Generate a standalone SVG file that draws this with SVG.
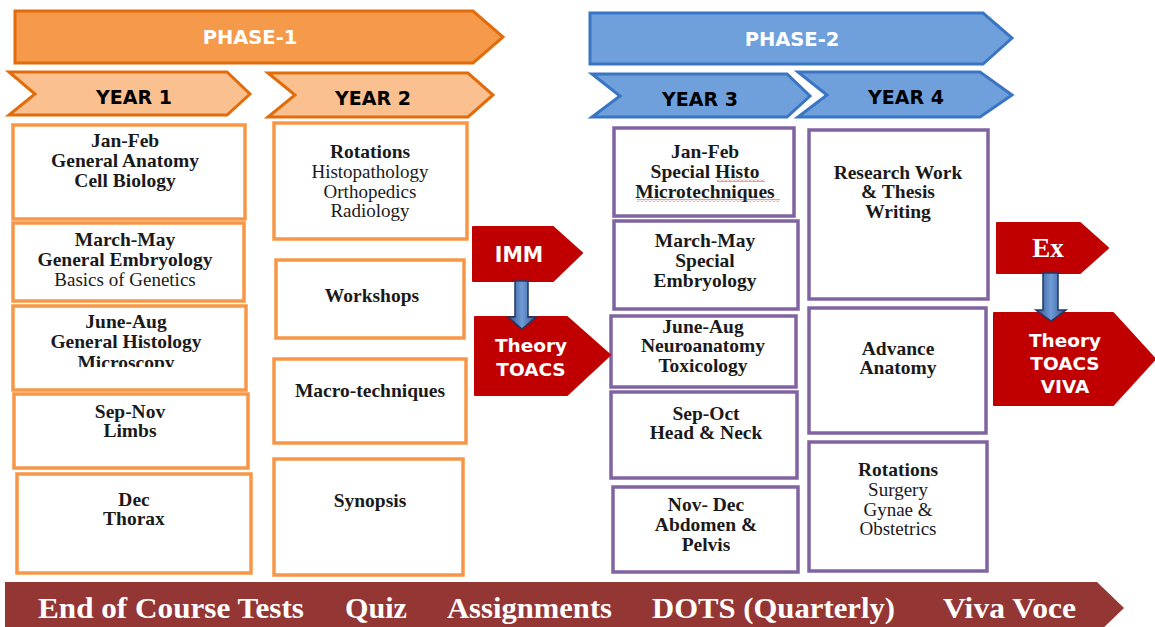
<svg xmlns="http://www.w3.org/2000/svg" width="1155" height="627" viewBox="0 0 1155 627">
<defs>
<style>
.ph1{fill:#F59A4A;stroke:#E36C0A;stroke-width:3}
.yr1{fill:#FAC090;stroke:#E36C0A;stroke-width:3}
.ph2{fill:#6FA0DC;stroke:#3A75C4;stroke-width:3}
.ob{fill:#fff;stroke:#F79646;stroke-width:3.5}
.pb{fill:#fff;stroke:#8064A2;stroke-width:3.5}
.red{fill:#C00000;stroke:#C00000;stroke-width:2;stroke-linejoin:round}
.dn{fill:url(#blu);stroke:#1F3864;stroke-width:1.5}
.hw{font-family:'DejaVu Sans',sans-serif;font-weight:bold;fill:#fff;text-anchor:middle}
.hb{font-family:'DejaVu Sans',sans-serif;font-weight:bold;font-size:19px;fill:#000;text-anchor:middle}
.b{font-family:'Liberation Serif',serif;font-weight:bold;font-size:19.5px;fill:#1a1a1a;text-anchor:middle}
.r{font-family:'Liberation Serif',serif;font-size:19px;fill:#1a1a1a;text-anchor:middle}
.bt{font-family:'Liberation Serif',serif;font-weight:bold;font-size:29px;fill:#fff}
</style>
<linearGradient id="blu" x1="0" y1="0" x2="1" y2="0">
<stop offset="0" stop-color="#2E5590"/>
<stop offset="0.5" stop-color="#6F9BD6"/>
<stop offset="1" stop-color="#2E5590"/>
</linearGradient>
<pattern id="sq" width="4" height="3" patternUnits="userSpaceOnUse">
<path d="M0,2.5 L2,0.5 L4,2.5" fill="none" stroke="#E02020" stroke-width="0.9"/>
</pattern>
<clipPath id="clipMic"><rect x="0" y="300" width="300" height="67"/></clipPath>
</defs>

<g id="phase1">
<polygon class="ph1" points="15,11 473,11 503,37 473,63 15,63"/>
<text class="hw" x="250" y="44" font-size="19.5">PHASE-1</text>
</g>
<g id="phase2">
<polygon class="ph2" points="590,13 983,13 1012,38 983,64 590,64"/>
<text class="hw" x="792" y="46" font-size="19.5">PHASE-2</text>
</g>
<g id="year1">
<polygon class="yr1" points="9,72 227,72 250,94 227,115 9,115 35,94"/>
<text class="hb" x="134" y="104">YEAR 1</text>
</g>
<g id="year2">
<polygon class="yr1" points="268,73 468,73 493,95 468,117 268,117 295,95"/>
<text class="hb" x="373" y="105">YEAR 2</text>
</g>
<g id="year3">
<polygon class="ph2" points="592,74 787,74 810,96 787,117 592,117 620,96"/>
<text class="hb" x="700" y="106">YEAR 3</text>
</g>
<g id="year4">
<polygon class="ph2" points="798,72 980,72 1012,95 980,117 798,117 827,95"/>
<text class="hb" x="906" y="104">YEAR 4</text>
</g>

<g id="y1-janfeb">
<rect class="ob" x="13" y="125" width="232" height="94"/>
<text class="b" x="125" y="147">Jan-Feb</text>
<text class="b" x="125" y="167">General Anatomy</text>
<text class="b" x="125" y="187">Cell Biology</text>
</g>
<g id="y1-marmay">
<rect class="ob" x="13" y="223" width="231" height="78"/>
<text class="b" x="125" y="246">March-May</text>
<text class="b" x="125" y="266">General Embryology</text>
<text class="r" x="125" y="286">Basics of Genetics</text>
</g>
<g id="y1-junaug">
<rect class="ob" x="13" y="306" width="233" height="84"/>
<text class="b" x="126" y="328">June-Aug</text>
<text class="b" x="126" y="348">General Histology</text>
<text class="b" x="126" y="369" clip-path="url(#clipMic)">Microscopy</text>
</g>
<g id="y1-sepnov">
<rect class="ob" x="14" y="394" width="234" height="74"/>
<text class="b" x="130" y="418">Sep-Nov</text>
<text class="b" x="130" y="437">Limbs</text>
</g>
<g id="y1-dec">
<rect class="ob" x="17" y="474" width="234" height="99"/>
<text class="b" x="134" y="506">Dec</text>
<text class="b" x="134" y="525">Thorax</text>
</g>

<g id="y2-rotations">
<rect class="ob" x="274" y="123" width="193" height="116"/>
<text class="b" x="370" y="158">Rotations</text>
<text class="r" x="370" y="178">Histopathology</text>
<text class="r" x="370" y="198">Orthopedics</text>
<text class="r" x="370" y="217">Radiology</text>
</g>
<g id="y2-workshops">
<rect class="ob" x="276" y="260" width="188" height="78"/>
<text class="b" x="372" y="302">Workshops</text>
</g>
<g id="y2-macro">
<rect class="ob" x="274" y="359" width="192" height="84"/>
<text class="b" x="370" y="397">Macro-techniques</text>
</g>
<g id="y2-synopsis">
<rect class="ob" x="274" y="459" width="189" height="116"/>
<text class="b" x="370" y="507">Synopsis</text>
</g>

<g id="y3-janfeb">
<rect class="pb" x="614" y="128" width="180" height="88"/>
<text class="b" x="705" y="158">Jan-Feb</text>
<text class="b" x="705" y="178">Special Histo</text>
<text class="b" x="705" y="198">Microtechniques</text>
<rect x="717" y="179" width="48" height="3" fill="url(#sq)"/>
<rect x="637" y="199" width="143" height="3" fill="url(#sq)"/>
</g>
<g id="y3-marmay">
<rect class="pb" x="614" y="221" width="184" height="88"/>
<text class="b" x="705" y="247">March-May</text>
<text class="b" x="705" y="267">Special</text>
<text class="b" x="705" y="287">Embryology</text>
</g>
<g id="y3-junaug">
<rect class="pb" x="611" y="316" width="185" height="71"/>
<text class="b" x="703" y="333">June-Aug</text>
<text class="b" x="703" y="352">Neuroanatomy</text>
<text class="b" x="703" y="372">Toxicology</text>
</g>
<g id="y3-sepoct">
<rect class="pb" x="611" y="392" width="186" height="86"/>
<text class="b" x="706" y="420">Sep-Oct</text>
<text class="b" x="706" y="439">Head &amp; Neck</text>
</g>
<g id="y3-novdec">
<rect class="pb" x="613" y="487" width="185" height="85"/>
<text class="b" x="706" y="511">Nov- Dec</text>
<text class="b" x="706" y="531">Abdomen &amp;</text>
<text class="b" x="706" y="551">Pelvis</text>
</g>

<g id="y4-research">
<rect class="pb" x="809" y="130" width="179" height="169"/>
<text class="b" x="898" y="179">Research Work</text>
<text class="b" x="898" y="198">&amp; Thesis</text>
<text class="b" x="898" y="218">Writing</text>
</g>
<g id="y4-advance">
<rect class="pb" x="809" y="308" width="177" height="125"/>
<text class="b" x="898" y="355">Advance</text>
<text class="b" x="898" y="374">Anatomy</text>
</g>
<g id="y4-rotations">
<rect class="pb" x="809" y="442" width="178" height="129"/>
<text class="b" x="898" y="476">Rotations</text>
<text class="r" x="898" y="496">Surgery</text>
<text class="r" x="898" y="516">Gynae &amp;</text>
<text class="r" x="898" y="535">Obstetrics</text>
</g>

<g id="imm">
<polygon class="red" points="473,227 553,227 582,253 553,281 473,281"/>
<text class="hw" x="519" y="262" font-size="20.5">IMM</text>
</g>
<g id="theory1">
<polygon class="red" points="475,317 567,317 610,355 567,395 475,395"/>
<text class="hw" x="531" y="352" font-size="18.5">Theory</text>
<text class="hw" x="531" y="376" font-size="18.5">TOACS</text>
</g>
<g id="ex">
<polygon class="red" points="997,223 1080,223 1108,248 1080,273 997,273"/>
<text x="1048" y="257" font-family="'Liberation Serif',serif" font-weight="bold" font-size="27" fill="#fff" text-anchor="middle">Ex</text>
</g>
<g id="theory2">
<polygon class="red" points="994,313 1113,313 1155,359 1113,405 994,405"/>
<text class="hw" x="1065" y="347" font-size="18.5">Theory</text>
<text class="hw" x="1065" y="370" font-size="18.5">TOACS</text>
<text class="hw" x="1065" y="393" font-size="18.5">VIVA</text>
</g>

<g id="connectors">
<path class="dn" d="M515,281 H528 V317 H536 L522,329 L508,317 H515 Z"/>
<path class="dn" d="M1043,273 H1058 V310 H1066 L1051,321 L1036,310 H1043 Z"/>
</g>

<g id="assessment">
<polygon points="5,582 1097,582 1124,608 1097,634 5,634" fill="#943634"/>
<text class="bt" x="38" y="618" textLength="266" lengthAdjust="spacingAndGlyphs">End of Course Tests</text>
<text class="bt" x="345" y="618" textLength="62" lengthAdjust="spacingAndGlyphs">Quiz</text>
<text class="bt" x="447" y="618" textLength="165" lengthAdjust="spacingAndGlyphs">Assignments</text>
<text class="bt" x="652" y="618" textLength="243" lengthAdjust="spacingAndGlyphs">DOTS (Quarterly)</text>
<text class="bt" x="943" y="618" textLength="133" lengthAdjust="spacingAndGlyphs">Viva Voce</text>
</g>
</svg>
